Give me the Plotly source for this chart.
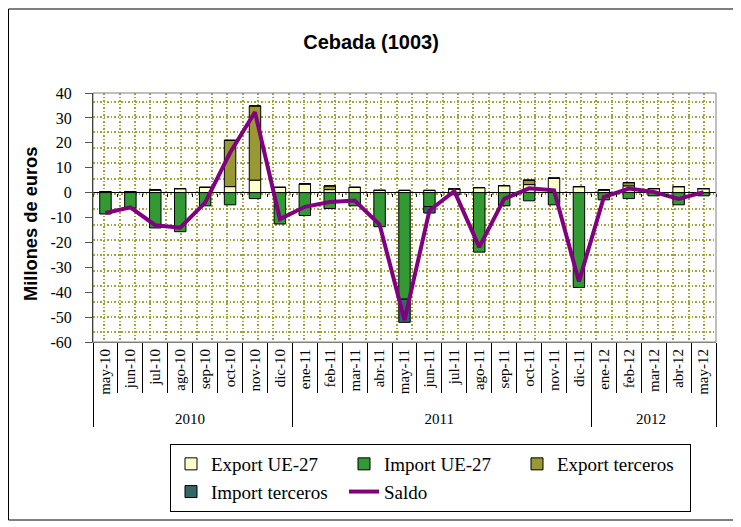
import plotly.graph_objects as go

years = ["2010", "2010", "2010", "2010", "2010", "2010", "2010", "2010",
         "2011", "2011", "2011", "2011", "2011", "2011", "2011", "2011", "2011", "2011", "2011", "2011",
         "2012", "2012", "2012", "2012", "2012"]
months = ["may-10", "jun-10", "jul-10", "ago-10", "sep-10", "oct-10", "nov-10", "dic-10",
          "ene-11", "feb-11", "mar-11", "abr-11", "may-11", "jun-11", "jul-11", "ago-11",
          "sep-11", "oct-11", "nov-11", "dic-11",
          "ene-12", "feb-12", "mar-12", "abr-12", "may-12"]

export_ue = [0.4, 0.4, 1.1, 1.6, 2.1, 2.4, 5.0, 2.1,
             3.5, 1.2, 2.1, 0.9, 0.9, 0.9, 1.5, 2.0, 2.8, 3.2, 5.8, 2.4,
             1.1, 2.7, 1.6, 2.4, 1.6]
import_ue = [-8.6, -6.2, -14.2, -15.7, -5.3, -4.9, -2.4, -12.6,
             -9.2, -6.4, -5.3, -13.7, -42.8, -5.6, -0.9, -23.9, -5.3, -3.3, -4.9, -38.1,
             -2.9, -2.4, -1.3, -4.9, -1.3]
export_terc = [0, 0, 0, 0, 0, 18.6, 29.8, 0,
               0, 1.5, 0, 0, 0, 0, 0, 0, 0, 1.8, 0, 0,
               0, 1.3, 0, 0, 0]
import_terc = [0, 0, 0, 0, 0, 0, 0, 0,
               0, 0, 0, 0, -9.3, -2.6, 0, 0, 0, 0, 0, 0,
               0, 0, 0, 0, 0]
saldo = [-8.2, -5.9, -13.1, -14.1, -4.0, 16.0, 32.3, -10.6,
         -5.7, -3.8, -3.2, -12.8, -51.3, -7.2, 0.6, -21.9, -2.5, 1.7, 0.9, -35.7,
         -1.8, 1.6, 0.3, -2.5, 0.2]

y_tick_vals = [40, 30, 20, 10, 0, -10, -20, -30, -40, -50, -60]
y_tick_text = ["40", "30", "20", "10", "0", "-10", "-20", "-30", "-40", "-50", "-60"]

x = [years, months]

SERIF = "Liberation Serif, Times New Roman, serif"
SANS = "Liberation Sans, Arial, sans-serif"
outline = dict(color="black", width=1)

fig = go.Figure()
fig.add_trace(go.Bar(x=x, y=export_ue, name="Export UE-27",
                     marker=dict(color="#FFFFCC", line=outline)))
fig.add_trace(go.Bar(x=x, y=import_ue, name="Import UE-27",
                     marker=dict(color="#339933", line=outline)))
fig.add_trace(go.Bar(x=x, y=export_terc, name="Export terceros",
                     marker=dict(color="#999933", line=outline)))
fig.add_trace(go.Bar(x=x, y=import_terc, name="Import terceros",
                     marker=dict(color="#336666", line=outline)))
fig.add_trace(go.Scatter(x=x, y=saldo, name="Saldo", mode="lines",
                         line=dict(color="#800080", width=4)))
# helper empty traces for the patterned grid and zero-line ticks
fig.add_trace(go.Scatter(x=[], y=[], xaxis="x2", yaxis="y2", showlegend=False, hoverinfo="skip"))
fig.add_trace(go.Scatter(x=[], y=[], xaxis="x3", yaxis="y", showlegend=False, hoverinfo="skip"))

# page body adds an 8px offset, so the figure is 8px smaller and shifted
W, H = 733, 519
L, R, T, B = 85, 25, 85, 185
pw, ph = W - L - R, H - T - B

grid_col = "#A3A33A"

fig.update_layout(
    width=W, height=H,
    margin=dict(l=L, r=R, t=T, b=B, pad=0, autoexpand=False),
    paper_bgcolor="white", plot_bgcolor="white",
    barmode="relative", bargap=0.54,
    title=dict(text="<b>Cebada (1003)</b>", x=363 / W, xref="container", xanchor="center",
               y=1 - 34 / H, yref="container", yanchor="middle",
               font=dict(family=SANS, size=20, color="black")),
    xaxis=dict(type="multicategory", showgrid=False, showline=True, linecolor="#808080",
               automargin=False,
               tickangle=-90, tickfont=dict(family=SERIF, size=15, color="black"),
               ticks="outside", tickson="boundaries", ticklen=50, tickcolor="black",
               showdividers=True, dividercolor="black", dividerwidth=1),
    yaxis=dict(range=[-60, 40], tickvals=y_tick_vals, ticktext=y_tick_text,
               showgrid=False, zeroline=True, automargin=False,
               zerolinecolor="black", zerolinewidth=1,
               showline=True, linecolor="black", linewidth=1,
               ticks="outside", ticklen=7, tickcolor="#555555", ticklabelstandoff=10,
               tickfont=dict(family=SERIF, size=16, color="black")),
    xaxis2=dict(overlaying="x", anchor="y2", range=[0, pw], tick0=11.3, dtick=15.38,
                showgrid=True, gridcolor=grid_col, griddash="1.5px,2px", gridwidth=1.5,
                showticklabels=False, ticks="", zeroline=False, showline=False),
    yaxis2=dict(overlaying="y", anchor="x2", range=[0, ph], tick0=9.7, dtick=15.37,
                showgrid=True, gridcolor=grid_col, griddash="1.5px,2px", gridwidth=1.5,
                showticklabels=False, ticks="", zeroline=False, showline=False),
    xaxis3=dict(overlaying="x", anchor="free", position=0.6, range=[0, 25], tick0=0, dtick=1,
                showgrid=False, showticklabels=False, ticks="outside", ticklen=3,
                tickcolor="black", zeroline=False, showline=False),
    legend=dict(orientation="h", x=(162 - L) / pw, xanchor="left",
                y=(334 - 436) / ph, yanchor="top",
                entrywidth=128, entrywidthmode="pixels",
                bordercolor="black", borderwidth=1, bgcolor="white",
                font=dict(family=SERIF, size=19, color="black"), traceorder="normal"),
    annotations=[
        dict(text="<b>Millones de euros</b>", textangle=-90, showarrow=False,
             xref="paper", yref="paper", x=(22 - L) / pw, y=(334 - 216) / ph,
             xanchor="center", yanchor="middle",
             font=dict(family=SANS, size=18.3, color="black")),
    ],
    shapes=[
        dict(type="rect", xref="paper", yref="paper", x0=0, x1=1, y0=0, y1=1,
             line=dict(color="#808080", width=1)),
        dict(type="rect", xref="paper", yref="paper",
             x0=(0.5 - L) / pw, x1=(727 - L) / pw, y0=(334 - 512) / ph, y1=(334 - 1) / ph,
             line=dict(color="black", width=1)),
    ],
)

fig.write_html("out.html")
